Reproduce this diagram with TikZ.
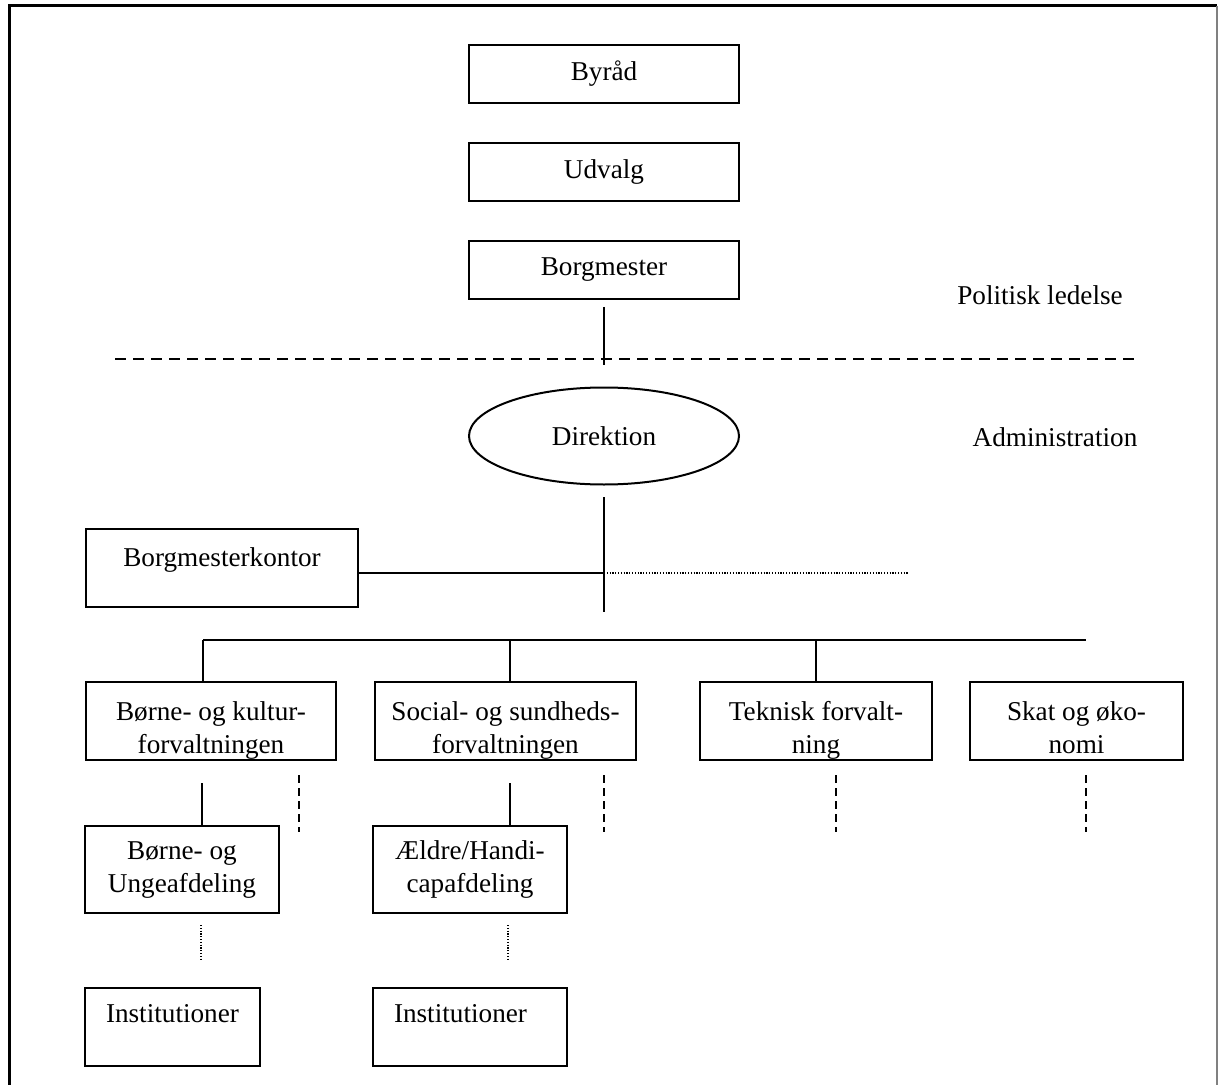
\documentclass[tikz,border=0pt]{standalone}
\usepackage{fontspec}
\setmainfont{Liberation Serif}
\usetikzlibrary{positioning, shapes.geometric}

\begin{document}
\begin{tikzpicture}[
    x=0.5pt, y=-0.5pt,
    font=\fontsize{13.6pt}{16.5pt}\selectfont,
    box/.style={draw, rectangle, line width=1pt, inner sep=0pt, align=center},
    topbox/.style={box, minimum width=135pt, minimum height=29pt},
    fvbox/.style={box, text height=35.5pt, text depth=3.5pt},
    afdbox/.style={box, minimum width=97pt, text height=33pt, text depth=10.5pt},
    instbox/.style={box, align=left, inner xsep=10.5pt, text height=17pt, text depth=22pt},
    oval/.style={draw, ellipse, line width=1pt, inner sep=0pt, minimum width=135pt, minimum height=48.5pt},
    conn/.style={line width=1pt},
    split/.style={line width=1.4pt, dash pattern=on 5.5pt off 3.5pt},
    stub/.style={line width=0.9pt, dash pattern=on 4pt off 2.5pt},
    dots/.style={line width=0.8pt, dash pattern=on 0.6pt off 0.8pt}
]
    \useasboundingbox (0,0) rectangle (1219,1085);

    % frame
    \draw[line width=1.5pt] (9,1085) -- (9,6) -- (1217,6);
    \draw[gray, line width=1pt] (1217,6) -- (1217,1085);

    % political level
    \node[topbox] (byraad) at (604,74) {Byråd};
    \node[topbox] (udvalg) [below=19pt of byraad] {Udvalg};
    \node[topbox] (borgmester) [below=19pt of udvalg] {Borgmester};
    \node (politisk) at (1040,295) {Politisk ledelse};

    \coordinate (bmTop) at (604,307);
    \coordinate (bmBot) at (604,365);
    \coordinate (sepL) at (115,359);
    \coordinate (sepR) at (1140,359);
    \draw[conn] (bmTop) -- (bmBot);
    \draw[split] (sepL) -- (sepR);

    % administration
    \node[oval] (direktion) at (604,436) {Direktion};
    \node (admin) at (1055,437) {Administration};
    \node[box, minimum width=136pt, text height=18.5pt, text depth=20.5pt] (bmkontor) at (222,568) {Borgmesterkontor};

    \coordinate (dirBot) at (604,497);
    \coordinate (stem) at (604,612);
    \coordinate (junction) at (604,573);
    \coordinate (dotEnd) at (908,573);
    \draw[conn] (dirBot) -- (stem);
    \draw[conn] (bmkontor.east |- junction) -- (junction);
    \draw[dots] (junction) -- (dotEnd);

    % forvaltninger
    \node[fvbox, minimum width=125pt] (bkf) at (211,721) {Børne- og kultur-\\forvaltningen};
    \node[fvbox, minimum width=130.5pt] (ssf) at (505.5,721) {Social- og sundheds-\\forvaltningen};
    \node[fvbox, minimum width=116pt] (tek) at (816,721) {Teknisk forvalt-\\ning};
    \node[fvbox, minimum width=106.5pt] (skat) at (1076.5,721) {Skat og øko-\\nomi};

    \coordinate (busL) at (203,640);
    \coordinate (busR) at (1086,640);
    \coordinate (drop2) at (510,640);
    \coordinate (drop3) at (816,640);
    \draw[conn] (busL) -- (busR);
    \draw[conn] (busL) -- (busL |- bkf.north);
    \draw[conn] (drop2) -- (drop2 |- ssf.north);
    \draw[conn] (drop3) -- (tek.north);

    \foreach \x in {299,604,836,1086}
        \draw[stub] (\x,775) -- (\x,832);

    % afdelinger
    \node[afdbox] (bua) at (182,869.5) {Børne- og\\Ungeafdeling};
    \node[afdbox] (aeh) at (470,869.5) {Ældre/Handi-\\capafdeling};

    \coordinate (sub1) at (202,783);
    \coordinate (sub2) at (510,783);
    \draw[conn] (sub1) -- (sub1 |- bua.north);
    \draw[conn] (sub2) -- (sub2 |- aeh.north);

    % institutioner
    \node[instbox, text width=66.5pt] (inst1) at (172.5,1027) {Institutioner};
    \node[instbox, text width=76pt] (inst2) at (470,1027) {Institutioner};

    \coordinate (dot1) at (201,925);
    \coordinate (dot2) at (508,925);
    \draw[dots] (dot1) -- ++(0,36);
    \draw[dots] (dot2) -- ++(0,36);
\end{tikzpicture}
\end{document}
